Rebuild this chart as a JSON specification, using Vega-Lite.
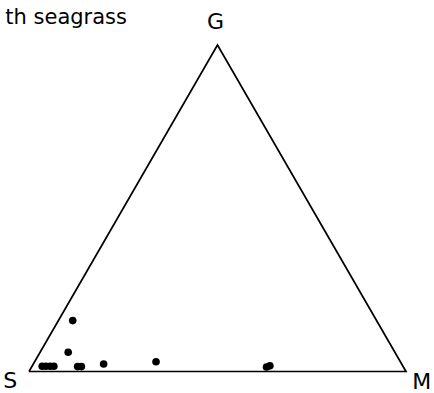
{
  "$schema": "https://vega.github.io/schema/vega-lite/v6.json",
  "width": 434,
  "height": 393,
  "padding": 0,
  "autosize": "none",
  "background": "white",
  "config": {"view": {"stroke": null}},
  "datasets": {
    "tri": [
      {"o": 0, "u": 0, "v": 0},
      {"o": 1, "u": 100, "v": 0},
      {"o": 2, "u": 50, "v": 86.6},
      {"o": 3, "u": 0, "v": 0}
    ],
    "pts": [
      {"u": 11.6, "v": 13.5},
      {"u": 10.4, "v": 5.1},
      {"u": 3.5, "v": 1.4},
      {"u": 4.5, "v": 1.4},
      {"u": 5.6, "v": 1.4},
      {"u": 6.6, "v": 1.4},
      {"u": 12.9, "v": 1.3},
      {"u": 13.9, "v": 1.3},
      {"u": 19.8, "v": 2.0},
      {"u": 33.7, "v": 2.6},
      {"u": 63.0, "v": 1.2},
      {"u": 63.9, "v": 1.5}
    ],
    "labels": [
      {"t": "G", "u": 49.5, "v": 92.8},
      {"t": "S", "u": -5.0, "v": -2.6},
      {"t": "M", "u": 104.2, "v": -2.9}
    ],
    "title": [
      {"t": "th seagrass", "u": 26.0, "v": 92.2}
    ]
  },
  "encoding": {
    "x": {"type": "quantitative", "scale": {"domain": [-7.69, 107.43], "nice": false, "zero": false}, "axis": null},
    "y": {"type": "quantitative", "scale": {"domain": [-5.70, 98.54], "nice": false, "zero": false}, "axis": null}
  },
  "layer": [
    {
      "data": {"name": "tri"},
      "mark": {"type": "line", "color": "black", "strokeWidth": 1.7, "strokeJoin": "miter"},
      "encoding": {
        "x": {"field": "u", "type": "quantitative"},
        "y": {"field": "v", "type": "quantitative"},
        "order": {"field": "o"}
      }
    },
    {
      "data": {"name": "pts"},
      "mark": {"type": "circle", "color": "black", "opacity": 1, "size": 58},
      "encoding": {
        "x": {"field": "u", "type": "quantitative"},
        "y": {"field": "v", "type": "quantitative"}
      }
    },
    {
      "data": {"name": "labels"},
      "mark": {"type": "text", "font": "DejaVu Sans", "fontSize": 22, "color": "black", "align": "center", "baseline": "middle"},
      "encoding": {
        "x": {"field": "u", "type": "quantitative"},
        "y": {"field": "v", "type": "quantitative"},
        "text": {"field": "t"}
      }
    },
    {
      "data": {"name": "title"},
      "mark": {"type": "text", "font": "DejaVu Sans", "fontSize": 21, "color": "black", "align": "right", "baseline": "alphabetic"},
      "encoding": {
        "x": {"field": "u", "type": "quantitative"},
        "y": {"field": "v", "type": "quantitative"},
        "text": {"field": "t"}
      }
    }
  ]
}
